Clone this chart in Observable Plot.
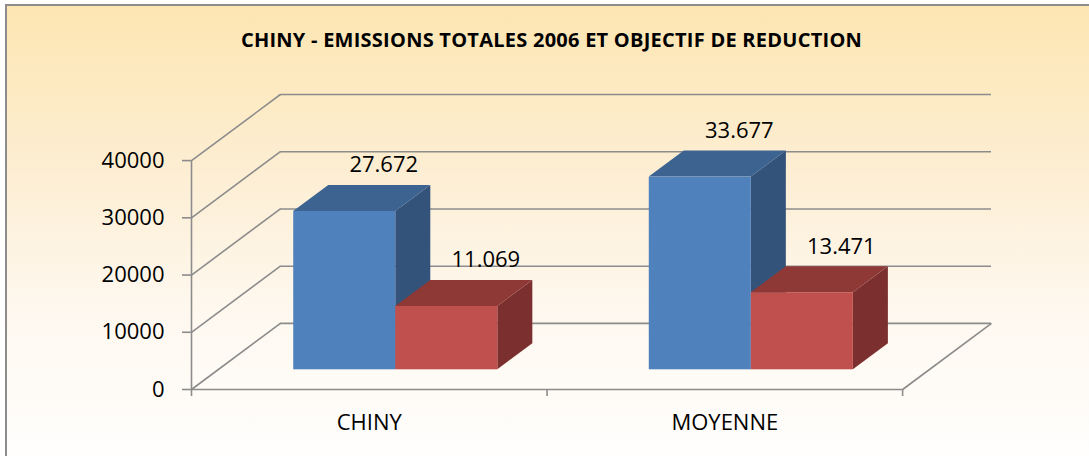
<!DOCTYPE html>
<html><head><meta charset="utf-8">
<script src="https://cdn.jsdelivr.net/npm/d3@7"></script>
<script src="https://cdn.jsdelivr.net/npm/@observablehq/plot@0.6"></script>
<style>
html,body{margin:0;padding:0;background:#fff;}
#chart{position:relative;width:1089px;height:456px;overflow:hidden;font-family:"Open Sans",sans-serif;}
#bg{position:absolute;left:5px;top:4px;width:1100px;height:470px;border-left:2px solid #8c8c8c;border-top:2px solid #8c8c8c;
  background:linear-gradient(to bottom,#fde6b2 0%,#fdeed3 35%,#fef8ef 65%,#ffffff 100%);}
#title{position:absolute;top:26px;left:0;width:1103px;text-align:center;font-weight:700;font-size:20px;line-height:27px;color:#000;letter-spacing:0.25px;white-space:nowrap;}
#plot{position:absolute;left:0;top:0;}
</style></head>
<body><div id="chart"><div id="bg"></div><div id="title">CHINY - EMISSIONS TOTALES 2006 ET OBJECTIF DE REDUCTION</div><div id="plot"></div></div>
<script>
const categories = ["CHINY", "MOYENNE"];
const seriesNames = ["Emissions totales 2006", "Objectif de réduction"];
const emissions2006 = [27672, 33677];
const objectifReduction = [11069, 13471];
const yTicks = [0, 10000, 20000, 30000, 40000];

// 3D layout constants (x in category units, depth in value units)
const DX = 0.25, DV = 11550, D0 = 0.298, D1 = 0.692, BW = 0.287;
const frontColors = ["#4f81bd", "#c0504d"];
const topColors = ["#3d6391", "#8f3937"];
const sideColors = ["#33537b", "#7b2f2e"];
const gridColor = "#8c8c8c";

const fmt = d3.formatLocale({decimal: ",", thousands: ".", grouping: [3], currency: ["", ""]}).format(",d");

const rows = categories.flatMap((c, i) => [
  {cat: c, ci: i, s: 0, value: emissions2006[i]},
  {cat: c, ci: i, s: 1, value: objectifReduction[i]}
]);
const xl = r => r.ci + 0.5 - BW + r.s * BW;
const xr = r => xl(r) + BW;

const topPts = rows.flatMap(r => [D0, D1].map(d => ({key: r.ci + "-" + r.s, s: r.s, y: r.value + d * DV, x1: xl(r) + d * DX, x2: xr(r) + d * DX})));
const sidePts = rows.flatMap(r => [D0, D1].map(d => ({key: r.ci + "-" + r.s, s: r.s, x: xr(r) + d * DX, y1: d * DV, y2: r.value + d * DV})));

const barMarks = [0, 1].flatMap(s => [
  Plot.areaY(sidePts.filter(p => p.s === s), {x: "x", y1: "y1", y2: "y2", z: "key", fill: sideColors[s], curve: "linear"}),
  Plot.areaX(topPts.filter(p => p.s === s), {y: "y", x1: "x1", x2: "x2", z: "key", fill: topColors[s], curve: "linear"}),
  Plot.rect(rows.filter(r => r.s === s), {x1: r => xl(r) + D0 * DX, x2: r => xr(r) + D0 * DX, y1: D0 * DV, y2: r => r.value + D0 * DV, fill: frontColors[s]})
]);

const chart = Plot.plot({
  width: 1089, height: 456,
  marginLeft: 191, marginRight: 98, marginTop: 94, marginBottom: 67,
  style: {fontFamily: "Open Sans", background: "transparent", overflow: "visible"},
  x: {type: "linear", domain: [0, 2 + DX]},
  y: {type: "linear", domain: [0, 40000 + DV]},
  marks: [
    Plot.ruleY(yTicks, {y: t => t + DV, x1: DX, x2: 2 + DX, stroke: gridColor, strokeWidth: 1.6}),
    Plot.link(yTicks, {x1: 0, y1: t => t, x2: DX, y2: t => t + DV, stroke: gridColor, strokeWidth: 1.6}),
    Plot.link([2], {x1: d => d, y1: 0, x2: d => d + DX, y2: DV, stroke: gridColor, strokeWidth: 1.6}),
    Plot.ruleY([0], {x1: 0, x2: 2, stroke: gridColor, strokeWidth: 1.6}),
    Plot.ruleX([0], {y1: 0, y2: 40000, stroke: gridColor, strokeWidth: 1.6}),
    Plot.axisY({ticks: yTicks, tickSize: 9, tickPadding: 18, stroke: gridColor, strokeWidth: 1.6, fill: "#000", fontSize: 22, tickFormat: d => String(d), label: null}),
    Plot.axisX({ticks: [0, 1, 2], tickSize: 7, tickPadding: 0, stroke: gridColor, strokeWidth: 1.6, tickFormat: () => "", label: null}),
    Plot.text(categories, {x: (d, i) => i + 0.5, y: 0, text: d => d, dy: 33, fontSize: 22, fill: "#000"}),
    ...barMarks,
    Plot.text(rows, {x: r => (xl(r) + xr(r)) / 2 + D1 * DX, y: r => r.value + D1 * DV, text: r => fmt(r.value), dy: -20, dx: 4, fontSize: 22, fill: "#000"})
  ]
});
document.getElementById("plot").appendChild(chart);
</script>
</body></html>
